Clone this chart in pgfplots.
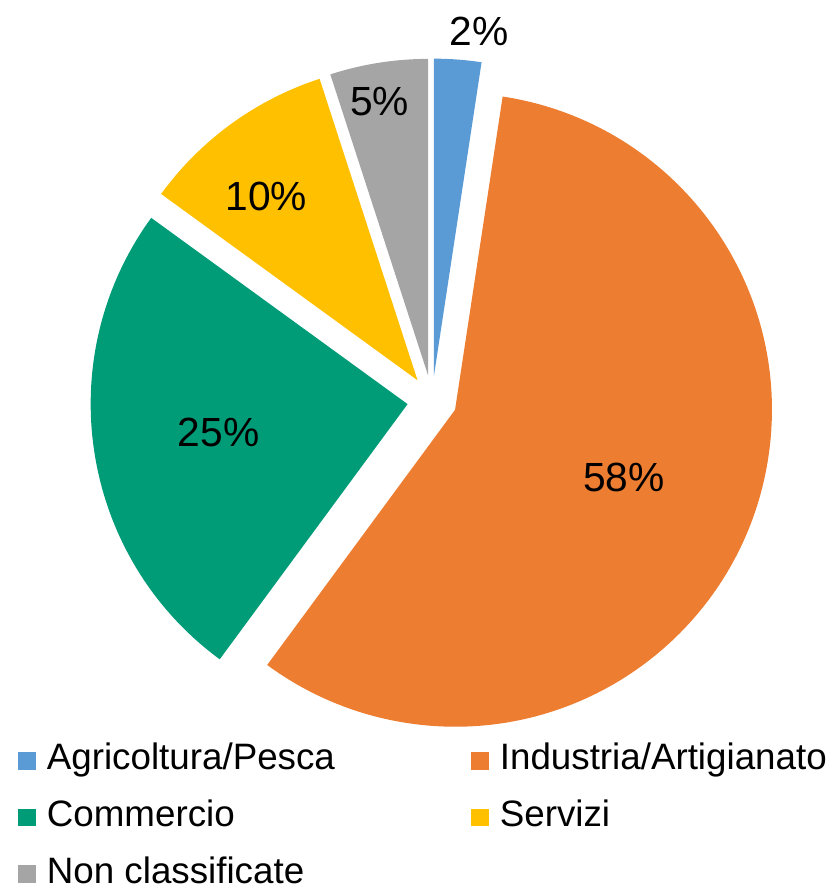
\documentclass[border=0pt]{standalone}
\usepackage{fontspec}
\setmainfont{Liberation Sans}
\usepackage{pgfplots}
\pgfplotsset{compat=1.18}
\definecolor{cagri}{RGB}{91,155,213}
\definecolor{cind}{RGB}{237,125,49}
\definecolor{ccom}{RGB}{0,155,119}
\definecolor{cserv}{RGB}{255,192,0}
\definecolor{cnon}{RGB}{165,165,165}

\begin{document}
\begin{tikzpicture}
\begin{axis}[x=1pt, y=1pt, xmin=0, xmax=836, ymin=0, ymax=895,
    hide axis, clip=false]
\path (axis cs:0,0) rectangle (axis cs:836,895);
\def\cx{435}\def\cy{492}\def\R{319}\def\off{25}
\xdef\angA{90}
% value / colour / label / label position
\foreach \v/\c/\t/\lx/\ly in {2.4/cagri/2/482/863, 57.7/cind/58/628/414,
    24.9/ccom/25/220/460, 10.0/cserv/10/268/697, 5.0/cnon/5/382/793}{
  \pgfmathsetmacro\angB{\angA-\v*3.6}
  \pgfmathsetmacro\mid{(\angA+\angB)/2}
  \pgfmathsetmacro\vx{\cx+\off*cos(\mid)}
  \pgfmathsetmacro\vy{\cy+\off*sin(\mid)}
  \pgfmathsetmacro\sx{\vx+\R*cos(\angA)}
  \pgfmathsetmacro\sy{\vy+\R*sin(\angA)}
  \edef\temp{\noexpand\fill[\c] (axis cs:\vx,\vy) -- (axis cs:\sx,\sy)
      arc[start angle=\angA, end angle=\angB, radius=\R pt] -- cycle;
    \noexpand\node[font=\noexpand\fontsize{41}{44}\noexpand\selectfont]
      at (axis cs:\lx,\ly) {\t\noexpand\%};}
  \temp
  \xdef\angA{\angB}
}
% legend
\foreach \c/\t/\x/\y in {cagri/Agricoltura\slash Pesca/18/120, cind/Industria\slash Artigianato/474/120,
    ccom/Commercio/18/63, cserv/Servizi/474/63, cnon/Non classificate/18/6}{
  \edef\temp{\noexpand\fill[\c] (axis cs:\x,\y) rectangle (axis cs:\x+18,\y+18);
    \noexpand\node[anchor=base west, inner sep=0pt,
      font=\noexpand\fontsize{37}{40}\noexpand\selectfont]
      at (axis cs:\x+29,\y) {\noexpand\strut\t};}
  \temp
}
\end{axis}
\end{tikzpicture}
\end{document}
